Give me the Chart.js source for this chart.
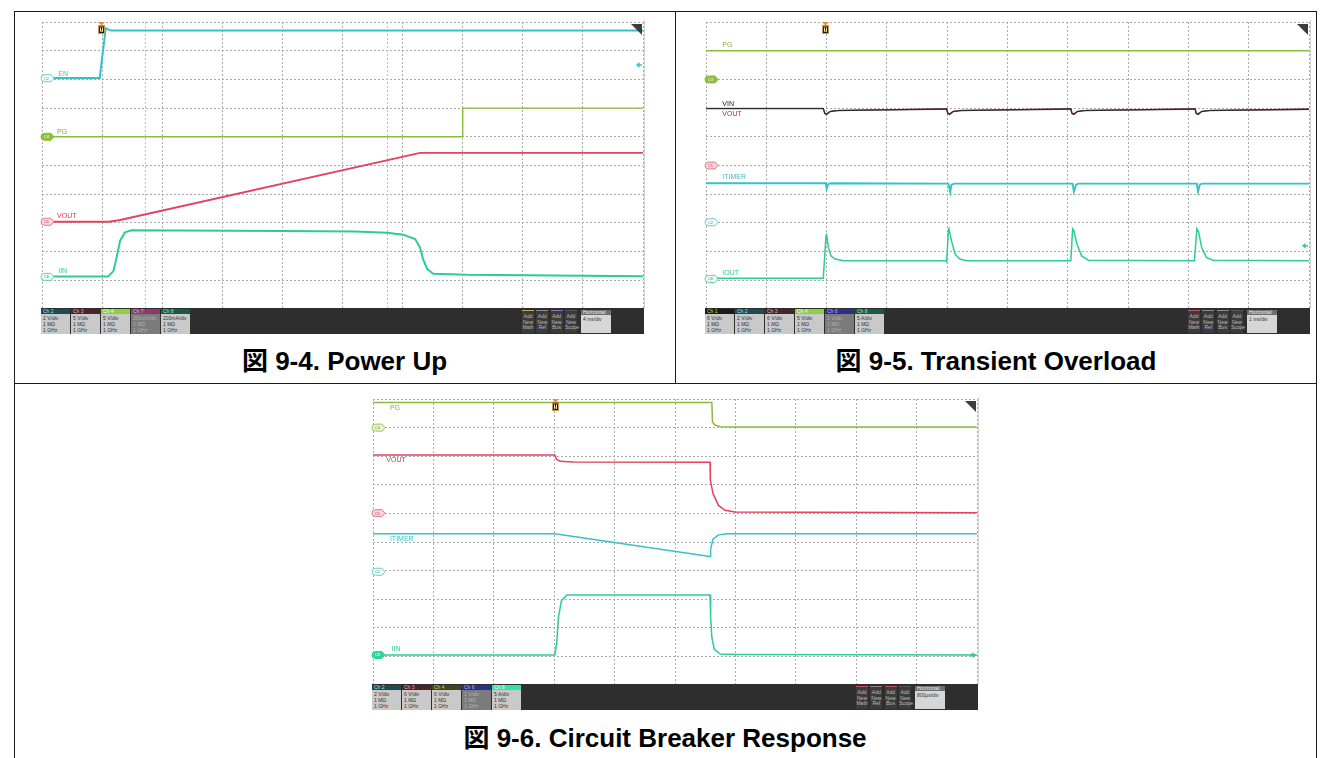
<!DOCTYPE html>
<html>
<head>
<meta charset="utf-8">
<script src="https://cdn.jsdelivr.net/npm/chart.js@4.4.1/dist/chart.umd.min.js"></script>
<style>
  html, body { margin: 0; padding: 0; background: #fff; }
  body { width: 1328px; height: 758px; position: relative; overflow: hidden;
         font-family: "Liberation Sans", Arial, sans-serif; }
  .rule { position: absolute; background: #1a1a1a; }
  .scope canvas { position: absolute; }
  .edge { position: absolute; width: 1px; background: #d2d2d2; }
  .bar { position: absolute; background: #2e2e2e; height: 26px; }
  .ch { position: absolute; top: 1px; width: 29px; height: 25px; }
  .ch .hd { height: 5px; font-size: 5px; line-height: 5px; padding-left: 2px; white-space: nowrap; }
  .ch .bd { height: 19px; background: #c9c9c9; color: #333; font-size: 5px; line-height: 6px;
            padding: 1px 0 0 2px; white-space: nowrap; }
  .ch.off .bd { background: #7b7b7b; color: #b4b4b4; }
  .btn { position: absolute; top: 2px; width: 12px; height: 22px; background: #3b3b3b;
         color: #bdbdbd; font-size: 5px; line-height: 5.5px; text-align: center; border-top: 1px solid #777; }
  .btn span { display: block; padding-top: 3px; }
  .hz { position: absolute; top: 2px; width: 30px; height: 23px; background: #d6d6d6; font-size: 5px; }
  .hz .hd { background: #6e6e6e; color: #eee; height: 5px; line-height: 5px; padding-left: 2px; }
  .hz .bd { color: #333; padding: 2px 0 0 2px; line-height: 5px; white-space: nowrap; }
  .caption { position: absolute; font-weight: bold; font-size: 26px; line-height: 30px; text-align: center;
             font-family: "Liberation Sans", Arial, "Noto Sans CJK JP", sans-serif; color: #000; }
</style>
</head>
<body>
<div class="rule" style="left:14px;top:11px;width:1303px;height:1px"></div>
<div class="rule" style="left:14px;top:383px;width:1303px;height:1px"></div>
<div class="rule" style="left:14px;top:11px;width:1px;height:747px"></div>
<div class="rule" style="left:1316px;top:11px;width:1px;height:747px"></div>
<div class="rule" style="left:675px;top:11px;width:1px;height:372px"></div>

<div class="scope" id="scope1"></div>
<div class="scope" id="scope2"></div>
<div class="scope" id="scope3"></div>

<div class="caption" style="left:14px;width:661px;top:346px">図 9-4. Power Up</div>
<div class="caption" style="left:676px;width:640px;top:346px">図 9-5. Transient Overload</div>
<div class="caption" style="left:14px;width:1302px;top:723px">図 9-6. Circuit Breaker Response</div>

<script>
// ---------- waveforms (x = time in divisions, y = screen level in divisions) ----------
// Power Up
const s1En   = [[0, 8.05], [0.96, 8.05], [1.06, 9.78], [1.15, 9.70], [10, 9.70]];
const s1Pg   = [[0, 6.0], [7.0, 6.0], [7.0, 7.0], [10, 7.0]];
const s1Vout = [[0, 3.04], [1.12, 3.04], [1.30, 3.10], [6.29, 5.44], [10, 5.44]];
const s1Iin  = [[0, 1.13], [1.10, 1.13], [1.19, 1.33], [1.24, 1.79], [1.30, 2.38], [1.38, 2.67],
                [1.49, 2.74], [4.0, 2.72], [5.21, 2.70], [5.74, 2.66], [6.01, 2.59], [6.21, 2.44],
                [6.29, 2.14], [6.34, 1.74], [6.41, 1.39], [6.51, 1.23], [7.07, 1.19], [10, 1.14]];

// Transient Overload
const s2Pg   = [[0, 9.0], [10, 9.0]];
const s2Vin  = [[0, 6.98], [1.945, 6.98], [1.97, 6.81], [2.00, 6.78], [2.06, 6.88], [2.17, 6.91], [2.67, 6.93],
                [3.76, 6.96], [3.99, 6.97], [4.01, 6.81], [4.04, 6.78], [4.10, 6.88], [4.21, 6.91], [4.71, 6.93],
                [5.80, 6.96], [6.05, 6.97], [6.07, 6.81], [6.10, 6.78], [6.16, 6.88], [6.27, 6.91], [6.77, 6.93],
                [7.90, 6.96], [8.11, 6.97], [8.13, 6.81], [8.16, 6.78], [8.22, 6.88], [8.33, 6.91], [8.83, 6.93],
                [10, 6.96]];
const s2Vout = [[0, 6.99], [1.945, 6.99], [1.97, 6.83], [2.00, 6.80], [2.06, 6.89], [2.20, 6.92], [3.99, 6.97],
                [4.01, 6.83], [4.04, 6.80], [4.10, 6.89], [4.24, 6.92], [6.05, 6.97], [6.07, 6.83], [6.10, 6.80],
                [6.16, 6.89], [6.30, 6.92], [8.11, 6.97], [8.13, 6.83], [8.16, 6.80], [8.22, 6.89], [8.36, 6.92],
                [10, 6.96]];
const s2Itimer = [[0, 4.38], [1.99, 4.38], [2.00, 4.19], [2.03, 4.36], [2.08, 4.38], [4.02, 4.37], [4.05, 4.07],
                  [4.07, 4.33], [4.12, 4.37], [6.08, 4.37], [6.10, 4.09], [6.14, 4.34], [6.18, 4.37],
                  [8.14, 4.37], [8.16, 4.09], [8.19, 4.34], [8.23, 4.37], [10, 4.37]];
const s2Iout = [[0, 1.07], [1.945, 1.07], [1.96, 1.56], [1.99, 2.55], [2.00, 2.59], [2.03, 2.14], [2.07, 1.85],
                [2.14, 1.74], [2.28, 1.68], [3.98, 1.68], [3.99, 1.65], [4.02, 2.73], [4.03, 2.79], [4.07, 2.38],
                [4.13, 1.91], [4.21, 1.74], [4.32, 1.68], [6.05, 1.68], [6.08, 2.79], [6.10, 2.73], [6.15, 2.26],
                [6.23, 1.85], [6.34, 1.70], [8.10, 1.68], [8.14, 2.79], [8.17, 2.67], [8.22, 2.14], [8.30, 1.79],
                [8.41, 1.70], [10, 1.68]];

// Circuit Breaker Response
const s3Pg     = [[0, 9.88], [5.61, 9.88], [5.62, 9.20], [5.66, 9.09], [5.75, 9.03], [6.02, 9.02], [10, 9.02]];
const s3Vout   = [[0, 8.04], [3.01, 8.04], [3.04, 7.89], [3.10, 7.82], [3.32, 7.80], [5.58, 7.79], [5.585, 7.16],
                  [5.63, 6.69], [5.72, 6.28], [5.83, 6.11], [5.99, 6.05], [10, 6.02]];
const s3Itimer = [[0, 5.29], [3.01, 5.29], [5.58, 4.49], [5.59, 4.76], [5.63, 5.11], [5.72, 5.25], [5.86, 5.29],
                  [10, 5.29]];
const s3Iin    = [[0, 1.05], [3.01, 1.05], [3.04, 1.43], [3.07, 2.36], [3.12, 2.95], [3.21, 3.15], [5.58, 3.15],
                  [5.59, 2.36], [5.61, 1.66], [5.65, 1.25], [5.75, 1.08], [6.02, 1.07], [10, 1.05]];

// ---------- screen annotations ----------
const s1Names = [['EN', 0.27, 8.18], ['PG', 0.25, 6.15], ['VOUT', 0.25, 3.25], ['IIN', 0.27, 1.33]];
const s2Names = [['PG', 0.27, 9.2], ['VIN', 0.27, 7.13], ['VOUT', 0.27, 6.78], ['ITIMER', 0.27, 4.58], ['IOUT', 0.27, 1.26]];
const s3Names = [['PG', 0.28, 9.68], ['VOUT', 0.22, 7.86], ['ITIMER', 0.28, 5.09], ['IIN', 0.31, 1.26]];

const s1Tags = [['C2', 8.04, false], ['C4', 6.0, true], ['C1', 3.04, false], ['C8', 1.12, false]];
const s2Tags = [['C4', 8.0, true], ['C1', 5.0, false], ['C2', 3.02, false], ['C8', 1.05, false]];
const s3Tags = [['C4', 9.0, false], ['C1', 6.01, false], ['C2', 3.96, false], ['C8', 1.05, true]];

const s1Trigger = 0.98, s2Trigger = 1.97, s3Trigger = 3.01;
const s1Cursors = [1.71, 5.74];

const s1Channels = ['Ch 2', 'Ch 3', 'Ch 4', 'Ch 7', 'Ch 8'];
const s1Scales   = ['2 V/div', '5 V/div', '5 V/div', '200mV/div', '200mA/div'];
const s2Channels = ['Ch 1', 'Ch 2', 'Ch 3', 'Ch 4', 'Ch 6', 'Ch 8'];
const s2Scales   = ['6 V/div', '2 V/div', '6 V/div', '5 V/div', '1 V/div', '5 A/div'];
const s3Channels = ['Ch 2', 'Ch 3', 'Ch 4', 'Ch 6', 'Ch 8'];
const s3Scales   = ['2 V/div', '6 V/div', '6 V/div', '1 V/div', '5 A/div'];
const timebase   = ['4 ms/div', '1 ms/div', '800µs/div'];

// ---------- colours ----------
const COL = {
  cyan: '#35c2c8', green: '#8cba3e', red: '#e2435f', teal: '#2ccb97', black: '#2c2c2c', darkred: '#b04050'
};
const TAG_STYLE = {
  C1: { fill: '#f8d3da', stroke: '#e17d8e', text: '#c94a5c' },
  C2: { fill: '#f4fcfc', stroke: '#71c9cd', text: '#3f9ea4' },
  C4: { fill: '#eaf4da', stroke: '#9cc45a', text: '#6d8f30', solid: '#8cc03c' },
  C8: { fill: '#f2fcf8', stroke: '#5fd2aa', text: '#2f9f78', solid: '#2fd49c' }
};
const HEAD = {
  'Ch 1': ['#1b1b1b', '#e6d44a'], 'Ch 2': ['#1d4c50', '#9ee3e6'], 'Ch 3': ['#4b2428', '#eeb0b8'],
  'Ch 4': ['#3a4820', '#b8dc70'], 'Ch 6': ['#2a2f8c', '#b0b4ff'], 'Ch 7': ['#8a3a6c', '#f0b0d8'],
  'Ch 8': ['#1b5a3f', '#8ee8c0']
};
const HEAD_ON = { 'Ch 4': ['#8fd03e', '#f4ffe8'], 'Ch 8': ['#2fe3a2', '#f0fff8'] };

// ---------- drawing helpers ----------
function drawTag(ctx, left, py, text, filled) {
  const st = TAG_STYLE[text];
  const x0 = left - 1, w = 13, h = 7, r = 3.5;
  ctx.beginPath();
  ctx.moveTo(x0 + r, py - h / 2);
  ctx.lineTo(x0 + w - 3, py - h / 2);
  ctx.lineTo(x0 + w, py);
  ctx.lineTo(x0 + w - 3, py + h / 2);
  ctx.lineTo(x0 + r, py + h / 2);
  ctx.arc(x0 + r, py, r, Math.PI / 2, Math.PI * 1.5);
  ctx.closePath();
  ctx.fillStyle = filled ? st.solid : st.fill;
  ctx.fill();
  ctx.lineWidth = 1;
  ctx.strokeStyle = filled ? st.solid : st.stroke;
  ctx.stroke();
  ctx.fillStyle = filled ? '#ffffff' : st.text;
  ctx.font = '4px "Liberation Sans", Arial, sans-serif';
  ctx.textAlign = 'center';
  ctx.textBaseline = 'middle';
  ctx.fillText(text, x0 + 5.5, py + 0.3);
}

function drawTrigger(ctx, px, top) {
  px = Math.round(px);
  ctx.fillStyle = '#f08a3c';
  ctx.beginPath();
  ctx.moveTo(px - 3, top); ctx.lineTo(px + 4, top); ctx.lineTo(px + 0.5, top + 3.5);
  ctx.closePath(); ctx.fill();
  ctx.fillStyle = '#1f1f1f';
  ctx.fillRect(px - 3, top + 3.5, 7, 8.5);
  ctx.strokeStyle = '#c89a52';
  ctx.lineWidth = 1;
  ctx.strokeRect(px - 2.5, top + 4, 6, 7.5);
  ctx.fillStyle = '#efe2c0';
  ctx.fillRect(px - 1, top + 5.5, 1, 4);
  ctx.fillRect(px + 1, top + 5.5, 1, 4);
  ctx.fillRect(px - 1, top + 8.5, 3, 1);
}

function drawArrow(ctx, right, py, color) {
  ctx.fillStyle = color;
  ctx.strokeStyle = color;
  ctx.lineWidth = 1.5;
  ctx.beginPath();
  ctx.moveTo(right - 7, py); ctx.lineTo(right - 3.5, py - 3); ctx.lineTo(right - 3.5, py + 3);
  ctx.closePath(); ctx.fill();
  ctx.beginPath(); ctx.moveTo(right - 4, py); ctx.lineTo(right - 1, py); ctx.stroke();
}

function decor(cfg) {
  return {
    id: 'scopeDecor',
    beforeDatasetsDraw(chart) {
      const { ctx, chartArea: a, scales: { x } } = chart;
      ctx.save();
      ctx.strokeStyle = '#f5b27c';
      ctx.lineWidth = 1;
      ctx.setLineDash([2, 2]);
      (cfg.cursors || []).forEach(v => {
        const px = Math.round(x.getPixelForValue(v)) + 0.5;
        ctx.beginPath(); ctx.moveTo(px, a.top); ctx.lineTo(px, a.bottom); ctx.stroke();
      });
      ctx.restore();
    },
    afterDatasetsDraw(chart) {
      const { ctx, chartArea: a, scales: { x, y } } = chart;
      ctx.save();
      ctx.font = '7px "Liberation Sans", Arial, sans-serif';
      ctx.textBaseline = 'middle';
      ctx.textAlign = 'left';
      cfg.names.forEach(([t, vx, vy], i) => {
        ctx.fillStyle = cfg.nameColors[i];
        ctx.fillText(t, x.getPixelForValue(vx), y.getPixelForValue(vy));
      });
      cfg.tags.forEach(([t, lvl, filled]) => drawTag(ctx, a.left, y.getPixelForValue(lvl), t, filled));
      drawTrigger(ctx, x.getPixelForValue(cfg.trigger), a.top);
      drawArrow(ctx, a.right, y.getPixelForValue(cfg.arrow[0]), cfg.arrow[1]);
      // corner flag of the scope screen
      ctx.fillStyle = '#3c3c3c';
      ctx.beginPath();
      ctx.moveTo(a.right - 12, a.top + 2); ctx.lineTo(a.right - 1, a.top + 2); ctx.lineTo(a.right - 1, a.top + 13);
      ctx.closePath(); ctx.fill();
      ctx.restore();
    }
  };
}

// status bar under each screen
function buildBar(wrap, cfg) {
  const bar = document.createElement('div');
  bar.className = 'bar';
  bar.style.left = (cfg.left - 1) + 'px';
  bar.style.top = (cfg.top + cfg.h) + 'px';
  bar.style.width = (cfg.w + 2) + 'px';
  cfg.channels.forEach((name, i) => {
    const box = document.createElement('div');
    box.className = 'ch' + (name === cfg.off ? ' off' : '');
    box.style.left = (i * 30) + 'px';
    const [bg, fg] = (name === cfg.active ? HEAD_ON : HEAD)[name];
    box.innerHTML = `<div class="hd" style="background:${bg};color:${fg}">${name}</div>` +
      `<div class="bd">${cfg.scales[i]}<br>1 MΩ<br>1 GHz</div>`;
    bar.appendChild(box);
  });
  ['Math', 'Ref', 'Bus', 'Scope'].forEach((kind, i) => {
    const b = document.createElement('div');
    b.className = 'btn';
    b.style.left = (cfg.w - 120 + i * 14.3) + 'px';
    b.style.borderTopColor = cfg.btnColors[i];
    b.innerHTML = `<span>Add<br>New<br>${kind}</span>`;
    bar.appendChild(b);
  });
  const hz = document.createElement('div');
  hz.className = 'hz';
  hz.style.left = (cfg.w - 61) + 'px';
  hz.innerHTML = `<div class="hd">Horizontal</div><div class="bd">${cfg.timebase}</div>`;
  bar.appendChild(hz);
  wrap.appendChild(bar);
}

function makeScope(cfg) {
  const wrap = document.getElementById(cfg.id);
  const padL = 8, padR = 8, padT = 10;
  const canvas = document.createElement('canvas');
  canvas.width = cfg.w + padL + padR;
  canvas.height = cfg.h + padT + 1;
  canvas.style.left = (cfg.left - padL) + 'px';
  canvas.style.top = (cfg.top - padT) + 'px';
  canvas.style.width = canvas.width + 'px';
  canvas.style.height = canvas.height + 'px';
  wrap.appendChild(canvas);

  const edge = document.createElement('div');
  edge.className = 'edge';
  edge.style.left = (cfg.left + cfg.w + 1) + 'px';
  edge.style.top = (cfg.top - 2) + 'px';
  edge.style.height = (cfg.h + 2) + 'px';
  wrap.appendChild(edge);

  const axis = {
    type: 'linear', min: 0, max: 10,
    ticks: { display: false, stepSize: 1 },
    grid: { color: '#ababab', lineWidth: 1, drawTicks: false },
    border: { display: false, dash: [2, 2] }
  };

  new Chart(canvas, {
    type: 'line',
    data: {
      datasets: cfg.traces.map(t => ({
        data: t.points.map(([x, y]) => ({ x, y })),
        borderColor: t.color,
        borderWidth: t.width || 1.9,
        pointRadius: 0,
        tension: 0,
        fill: false
      }))
    },
    options: {
      responsive: false,
      animation: false,
      devicePixelRatio: 1,
      layout: { padding: { left: padL, right: padR, top: padT, bottom: 0 } },
      plugins: { legend: { display: false }, tooltip: { enabled: false } },
      scales: { x: { ...axis }, y: { ...axis } }
    },
    plugins: [decor(cfg)]
  });

  buildBar(wrap, cfg);
}

makeScope({
  id: 'scope1', left: 42, top: 22, w: 601, h: 286,
  traces: [
    { points: s1En, color: COL.cyan, width: 2 },
    { points: s1Pg, color: COL.green, width: 1.4 },
    { points: s1Vout, color: COL.red },
    { points: s1Iin, color: COL.teal, width: 2 }
  ],
  names: s1Names, nameColors: [COL.cyan, '#8aa83a', '#c8374f', COL.teal],
  tags: s1Tags, trigger: s1Trigger, cursors: s1Cursors, arrow: [8.5, COL.cyan],
  channels: s1Channels, scales: s1Scales, active: 'Ch 4', off: 'Ch 7', timebase: timebase[0],
  btnColors: ['#b8a848', '#8a8a8a', '#8f6fb8', '#555555']
});

makeScope({
  id: 'scope2', left: 706, top: 22, w: 603, h: 286,
  traces: [
    { points: s2Pg, color: COL.green, width: 1.5 },
    { points: s2Vin, color: COL.black, width: 1.3 },
    { points: s2Vout, color: COL.darkred, width: 1.3 },
    { points: s2Itimer, color: COL.cyan },
    { points: s2Iout, color: COL.teal, width: 1.5 }
  ],
  names: s2Names, nameColors: ['#8aa83a', '#222222', '#8e3040', COL.cyan, COL.teal],
  tags: s2Tags, trigger: s2Trigger, cursors: [], arrow: [2.2, COL.teal],
  channels: s2Channels, scales: s2Scales, active: 'Ch 4', off: 'Ch 6', timebase: timebase[1],
  btnColors: ['#c05a68', '#8a8a8a', '#8a8a8a', '#555555']
});

makeScope({
  id: 'scope3', left: 373, top: 399, w: 604, h: 285,
  traces: [
    { points: s3Pg, color: COL.green, width: 1.5 },
    { points: s3Vout, color: COL.red, width: 1.5 },
    { points: s3Itimer, color: COL.cyan, width: 1.5 },
    { points: s3Iin, color: COL.teal, width: 1.5 }
  ],
  names: s3Names, nameColors: ['#8aa83a', '#c8374f', COL.cyan, COL.teal],
  tags: s3Tags, trigger: s3Trigger, cursors: [], arrow: [1.05, COL.teal],
  channels: s3Channels, scales: s3Scales, active: 'Ch 8', off: 'Ch 6', timebase: timebase[2],
  btnColors: ['#d04a5a', '#8a8a8a', '#c8506a', '#555555']
});
</script>
</body>
</html>
